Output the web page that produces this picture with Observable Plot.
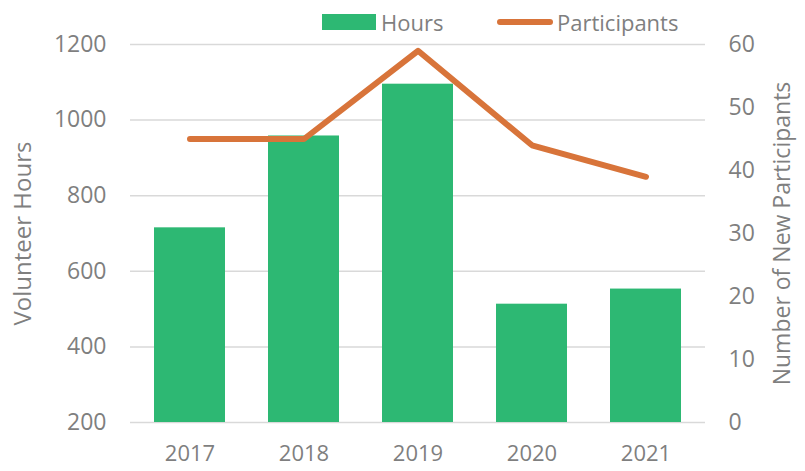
<!DOCTYPE html>
<html>
<head>
<meta charset="utf-8">
<script src="https://cdn.jsdelivr.net/npm/d3@7"></script>
<script src="https://cdn.jsdelivr.net/npm/@observablehq/plot@0.6"></script>
<style>
  body { margin: 0; background: white; }
  #wrap { position: relative; width: 805px; height: 471px; font-family: "Open Sans", sans-serif; color: #7f7f7f; }
  #legend { position: absolute; left: 0; top: 0; width: 805px; height: 40px; font-size: 22px; }
  .item { position: absolute; top: 5px; display: flex; align-items: center; height: 34px; }
</style>
</head>
<body>
<div id="wrap">
  <div id="chart"></div>
  <div id="legend"></div>
</div>
<script>
const years = ["2017", "2018", "2019", "2020", "2021"];
const hours = [715, 958, 1095, 513, 553];
const participants = [45, 45, 59, 44, 39];
const leftTicks = [200, 400, 600, 800, 1000, 1200];
const rightTicks = [0, 10, 20, 30, 40, 50, 60];
const seriesNames = ["Hours", "Participants"];

const green = "#2db873";
const orange = "#d8743a";
const gray = "#7f7f7f";

// map participants (0–60) onto the hours axis (200–1200)
const toLeft = v => 200 + v * 1000 / 60;
const fromLeft = d => String(Math.round((d - 200) * 60 / 1000));

const data = years.map((year, i) => ({year, hours: hours[i], participants: participants[i]}));

const chart = Plot.plot({
  width: 805,
  height: 471,
  marginLeft: 130,
  marginRight: 100,
  marginTop: 44,
  marginBottom: 49,
  style: {fontFamily: "Open Sans, sans-serif", fontSize: "23px", color: gray, background: "white"},
  x: {domain: years, paddingInner: 0.377, paddingOuter: 0.19, label: null},
  y: {domain: [200, 1200], label: null},
  marks: [
    Plot.ruleY(leftTicks, {stroke: "#d9d9d9", strokeWidth: 1.5}),
    Plot.barY(data, {x: "year", y1: 200, y2: "hours", fill: green}),
    Plot.line(data, {x: "year", y: d => toLeft(d.participants), stroke: orange, strokeWidth: 6, strokeLinejoin: "round", strokeLinecap: "round"}),
    Plot.axisY(leftTicks, {anchor: "left", tickSize: 0, tickPadding: 24, tickFormat: d => String(d), label: null, fill: gray, fontSize: 23}),
    Plot.axisY(rightTicks.map(toLeft), {anchor: "right", tickSize: 0, tickPadding: 23, tickFormat: fromLeft, label: null, fill: gray, fontSize: 23}),
    Plot.axisX(years, {anchor: "bottom", tickSize: 0, tickPadding: 23, label: null, fill: gray, fontSize: 22}),
    Plot.text(["Volunteer Hours"], {frameAnchor: "left", textAnchor: "middle", dx: -107, rotate: -90, fill: gray, fontSize: 24}),
    Plot.text(["Number of New Participants"], {frameAnchor: "right", textAnchor: "middle", dx: 77, rotate: -90, fill: gray, fontSize: 23})
  ]
});
document.getElementById("chart").appendChild(chart);

const legend = document.getElementById("legend");
legend.innerHTML = `
  <div class="item" style="left:322px">
    <svg width="54" height="16" style="margin-right:5px"><rect width="54" height="16" fill="${green}"></rect></svg>
    <span>${seriesNames[0]}</span>
  </div>
  <div class="item" style="left:497px">
    <svg width="56" height="10" style="margin-right:4px"><line x1="3" x2="53" y1="5" y2="5" stroke="${orange}" stroke-width="6" stroke-linecap="round"></line></svg>
    <span>${seriesNames[1]}</span>
  </div>`;
</script>
</body>
</html>
